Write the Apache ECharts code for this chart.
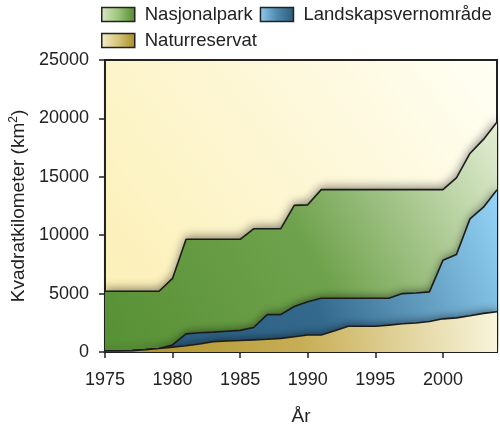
<!DOCTYPE html>
<html>
<head>
<meta charset="utf-8">
<script src="https://cdn.jsdelivr.net/npm/echarts@6/dist/echarts.min.js"></script>
<style>
html, body { margin: 0; padding: 0; background: #fff; }
#chart { width: 500px; height: 431px; }
</style>
</head>
<body>
<div id="chart"></div>
<script>
// år og arealer (km2) per kategori
var years = [];
for (var y = 1975; y <= 2004; y++) years.push(String(y));

var naturreservat = [100, 100, 120, 200, 300, 420, 530, 690, 890, 940,
	980, 1040, 1090, 1170, 1310, 1450, 1450, 1820, 2200, 2200,
	2200, 2300, 2420, 2480, 2610, 2840, 2920, 3110, 3310, 3450];
var landskapsvern = [0, 0, 0, 0, 0, 180, 1020, 960, 810, 840,
	870, 1060, 2110, 2030, 2590, 2850, 3150, 2780, 2400, 2400,
	2400, 2300, 2580, 2570, 2540, 5010, 5430, 8290, 9090, 10450];
var nasjonalpark = [5100, 5100, 5080, 5000, 4900, 5700, 8100, 8000, 7950, 7870,
	7800, 8450, 7350, 7350, 8650, 8300, 9300, 9300, 9300, 9300,
	9300, 9300, 8900, 8850, 8750, 6050, 6550, 5600, 5800, 5800];

var names = ['Nasjonalpark', 'Landskapsvernområde', 'Naturreservat'];

function grad(x, y, x2, y2, c0, c1, c2) {
	return new echarts.graphic.LinearGradient(x, y, x2, y2, [
		{ offset: 0, color: c0 },
		{ offset: 0.5, color: c1 },
		{ offset: 1, color: c2 }
	]);
}

var myChart = echarts.init(document.getElementById('chart'));

var lineStyle = { color: '#1c1c1c', width: 1.6 };

var option = {
	backgroundColor: '#fff',
	textStyle: { fontFamily: 'Liberation Sans, Arial, sans-serif' },
	legend: {
		left: 96,
		width: 420,
		top: 0,
		itemWidth: 33,
		itemHeight: 14,
		itemGap: 7,
		icon: 'rect',
		textStyle: { fontSize: 18.5, color: '#222', padding: [0, 5, 0, 5] },
		data: [{
			name: names[0],
			itemStyle: { color: grad(0, 0, 1, 0, '#dbe9c8', '#9cc47a', '#4f8a2e'), borderColor: '#222', borderWidth: 1.5 }
		}, {
			name: names[1],
			itemStyle: { color: grad(0, 0, 1, 0, '#8fcdef', '#4f89ae', '#2a5a78'), borderColor: '#222', borderWidth: 1.5 }
		}, {
			name: names[2],
			itemStyle: { color: grad(0, 0, 1, 0, '#f4efcc', '#d5c47a', '#a88b25'), borderColor: '#222', borderWidth: 1.5 }
		}]
	},
	grid: {
		left: 99,
		right: 3,
		top: 60,
		bottom: 72,
		show: true,
		borderColor: '#222',
		borderWidth: 2,
		backgroundColor: grad(0, 1, 1, 0, '#fcefb2', '#fdf6d2', '#fffff4')
	},
	xAxis: {
		type: 'category',
		boundaryGap: false,
		data: years,
		name: 'År',
		nameLocation: 'middle',
		nameGap: 55,
		nameTextStyle: { fontSize: 19, color: '#222' },
		axisLine: { lineStyle: { color: '#222', width: 2 } },
		axisTick: { interval: 4, length: 6, lineStyle: { color: '#222', width: 1.5 } },
		axisLabel: { interval: 4, fontSize: 18, color: '#222', margin: 19 },
		splitLine: { show: false }
	},
	yAxis: {
		type: 'value',
		min: 0,
		max: 25000,
		interval: 5000,
		name: 'Kvadratkilometer (km{sup|2})',
		nameLocation: 'middle',
		nameGap: 74,
		nameTextStyle: {
			fontSize: 19,
			color: '#222',
			rich: { sup: { fontSize: 12, color: '#222', verticalAlign: 'top', padding: [0, 0, 9, 0] } }
		},
		axisLine: { show: true, lineStyle: { color: '#222', width: 2 } },
		axisTick: { show: true, length: 6, lineStyle: { color: '#222', width: 1.5 } },
		axisLabel: {
			fontSize: 18, color: '#222', margin: 16,
			formatter: function (v) { return String(v); }
		},
		splitLine: { show: false }
	},
	series: [{
		name: names[2],
		type: 'line',
		stack: 'areal',
		z: 4,
		symbol: 'none',
		data: naturreservat,
		lineStyle: lineStyle,
		itemStyle: { color: '#b09426' },
		areaStyle: {
			opacity: 1,
			color: grad(0, 1, 1, 0.3, '#ad8f22', '#c7ae55', '#f8f5dc'),
			shadowColor: 'rgba(0,0,0,0.45)',
			shadowBlur: 8,
			shadowOffsetY: -2
		}
	}, {
		name: names[1],
		type: 'line',
		stack: 'areal',
		z: 3,
		symbol: 'none',
		data: landskapsvern,
		lineStyle: lineStyle,
		itemStyle: { color: '#2c5f80' },
		areaStyle: {
			opacity: 1,
			color: grad(0, 1, 1, 0, '#2a5b7b', '#33698d', '#95d5f7'),
			shadowColor: 'rgba(0,0,0,0.45)',
			shadowBlur: 8,
			shadowOffsetY: -2
		}
	}, {
		name: names[0],
		type: 'line',
		stack: 'areal',
		z: 2,
		symbol: 'none',
		data: nasjonalpark,
		lineStyle: lineStyle,
		itemStyle: { color: '#5a9338' },
		areaStyle: {
			opacity: 1,
			color: grad(0, 1, 1, 0, '#579034', '#6fa24c', '#e4eed5'),
			shadowColor: 'rgba(0,0,0,0.45)',
			shadowBlur: 10,
			shadowOffsetY: -3
		}
	}]
};

myChart.setOption(option);
</script>
</body>
</html>
